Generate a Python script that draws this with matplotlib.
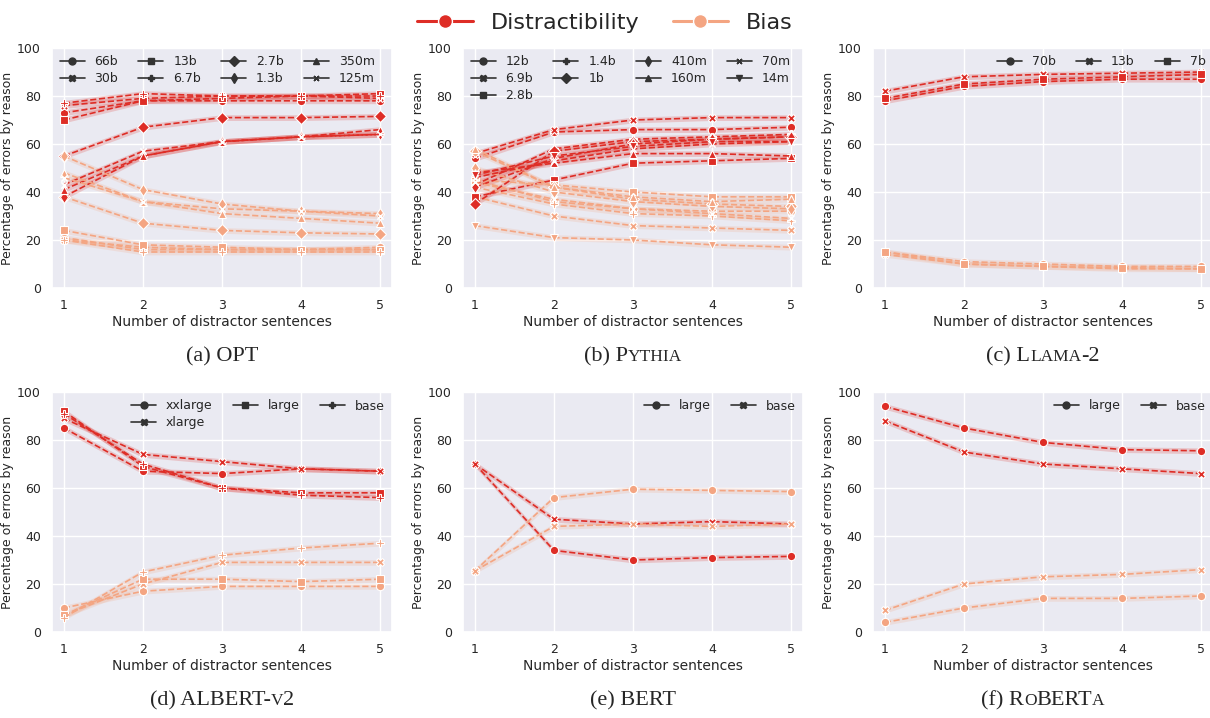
import matplotlib
matplotlib.use("Agg")
import matplotlib.pyplot as plt
import seaborn as sns
import numpy as np
from matplotlib.lines import Line2D
from matplotlib.offsetbox import TextArea, HPacker, AnchoredOffsetbox

sns.set_theme(style="darkgrid")
plt.rcParams['font.family'] = ['DejaVu Sans']

x = [1, 2, 3, 4, 5]
RED = "#de2d26"
SALMON = "#f4a582"
markers = ['o', 'X', 's', 'P', 'D', 'd', '^', (4, 2, 45), 'v']

opt_models = ["66b", "30b", "13b", "6.7b", "2.7b", "1.3b", "350m", "125m"]
opt_dist = [[73, 78, 78, 78, 78], [76, 79, 80, 80, 79], [70, 78, 79, 80, 81], [77, 81, 80, 80, 80],
            [55, 67, 71, 71, 71.5], [38, 55, 61, 63, 64], [41, 55, 61, 63, 66], [43, 57, 61, 63, 64]]
opt_bias = [[21, 16, 16, 16, 17], [20, 17, 16, 16, 16], [24, 18, 17, 16, 16], [20, 15, 15, 15, 15],
            [38, 27, 24, 23, 22.5], [55, 41, 35, 32, 31], [48, 36, 31, 29, 27], [46, 36, 33, 32, 30]]

py_models = ["12b", "6.9b", "2.8b", "1.4b", "1b", "410m", "160m", "70m", "14m"]
py_dist = [[54, 65, 66, 66, 67], [56, 66, 70, 71, 71], [38, 45, 52, 53, 54], [43, 58, 62, 63, 64],
           [35, 57, 61, 62, 63], [42, 54, 60, 62, 63], [48, 52, 56, 56, 55], [46, 53, 58, 60, 61],
           [47, 55, 59, 61, 61]]
py_bias = [[45, 36, 33, 32, 32], [38, 30, 26, 25, 24], [45, 43, 40, 38, 38], [42, 35, 31, 30, 28],
           [57, 42, 37, 35, 34], [50, 40, 36, 34, 33], [58, 42, 38, 36, 37], [44, 37, 33, 31, 29],
           [26, 21, 20, 18, 17]]

ll_models = ["70b", "13b", "7b"]
ll_dist = [[78, 84, 86, 87, 87], [82, 88, 89, 89.5, 90], [79, 85, 87, 88, 89]]
ll_bias = [[15, 11, 10, 9, 9], [14, 10, 9, 8, 8], [15, 10, 9, 8.5, 8]]

al_models = ["xxlarge", "xlarge", "large", "base"]
al_dist = [[85, 67, 66, 68, 67], [89, 74, 71, 68, 67], [92, 69, 60, 58, 58], [91, 70, 60, 57, 56]]
al_bias = [[10, 17, 19, 19, 19], [7, 20, 29, 29, 29], [7, 22, 22, 21, 22], [6, 25, 32, 35, 37]]

be_models = ["large", "base"]
be_dist = [[70, 34, 30, 31, 31.5], [70, 47, 45, 46, 45]]
be_bias = [[25.5, 56, 59.5, 59, 58.5], [25.5, 44, 45, 44, 45]]

ro_models = ["large", "base"]
ro_dist = [[94, 85, 79, 76, 75.5], [88, 75, 70, 68, 66]]
ro_bias = [[4, 10, 14, 14, 15], [9, 20, 23, 24, 26]]

panels = [
    (opt_models, opt_dist, opt_bias, 4, [("(a) OPT", 16)]),
    (py_models, py_dist, py_bias, 4, [("(b) P", 16), ("YTHIA", 12.5)]),
    (ll_models, ll_dist, ll_bias, 3, [("(c) L", 16), ("LAMA", 12.5), ("-2", 16)]),
    (al_models, al_dist, al_bias, 3, [("(d) ALBERT-", 16), ("V", 12.5), ("2", 16)]),
    (be_models, be_dist, be_bias, 2, [("(e) BERT", 16)]),
    (ro_models, ro_dist, ro_bias, 2, [("(f) R", 16), ("O", 12.5), ("BERT", 16), ("A", 12.5)]),
]

fig = plt.figure(figsize=(12.1, 7.18), dpi=100)
W, H = 1210, 718
lefts = [52, 463, 873]
aw = 340
tops = [48, 392]
ah = 240

for i, (models, dist, bias, ncol, cap) in enumerate(panels):
    r, c = divmod(i, 3)
    ax = fig.add_axes([lefts[c] / W, 1 - (tops[r] + ah) / H, aw / W, ah / H])
    for j, m in enumerate(models):
        for data, col in ((dist, RED), (bias, SALMON)):
            y = np.array(data[j], dtype=float)
            ax.fill_between(x, y - 1.2, y + 1.2, color=col, alpha=0.2, lw=0)
            ax.plot(x, y, ls='--', color=col, marker=markers[j], ms=6,
                    mec='white', mew=0.8, lw=1.2)
    ax.set_ylim(0, 100)
    ax.set_xlim(0.85, 5.15)
    ax.set_xticks(x)
    ax.set_yticks([0, 20, 40, 60, 80, 100])
    ax.tick_params(labelsize=9, pad=2)
    ax.set_xlabel("Number of distractor sentences", fontsize=10, labelpad=2)
    ax.set_ylabel("Percentage of errors by reason", fontsize=9, labelpad=2)
    handles = [Line2D([0], [0], color='#333333', marker=markers[j], ms=5, lw=1.2) for j in range(len(models))]
    ax.legend(handles, models, ncol=ncol, loc='upper right' if ncol < 4 else 'upper left',
              frameon=False, fontsize=9, handlelength=2, columnspacing=1.6,
              borderaxespad=0.2, labelspacing=0.3)
    boxes = [TextArea(t, textprops=dict(family='Liberation Serif', size=s)) for t, s in cap]
    pack = HPacker(children=boxes, align='baseline', pad=0, sep=0)
    ab = AnchoredOffsetbox(loc='upper center', child=pack, frameon=False,
                           bbox_to_anchor=(0.5, -0.245), bbox_transform=ax.transAxes, pad=0, borderpad=0)
    ax.add_artist(ab)

lh = [Line2D([0], [0], color=RED, marker='o', ms=10, lw=2.2, mec='white'),
      Line2D([0], [0], color=SALMON, marker='o', ms=10, lw=2.2, mec='white')]
fig.legend(lh, ["Distractibility", "Bias"], loc='upper center', bbox_to_anchor=(0.5, 1.01),
           ncol=2, frameon=False, fontsize=16, handlelength=2.5, columnspacing=1.5)

fig.savefig("out.png", dpi=100)
